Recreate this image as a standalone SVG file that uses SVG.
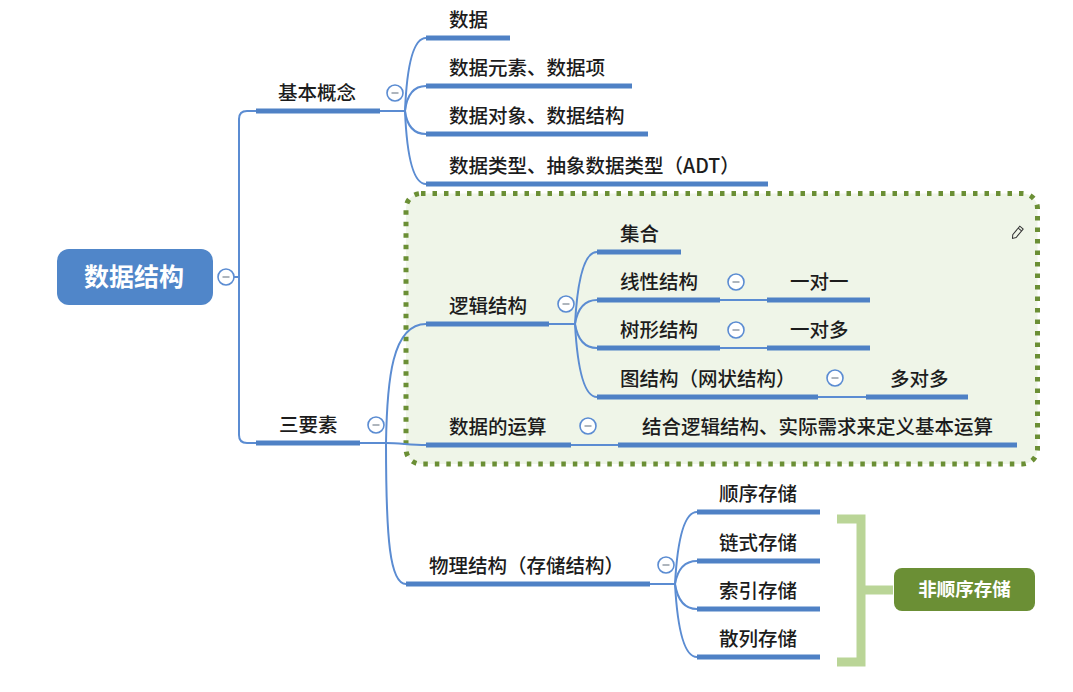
<svg xmlns="http://www.w3.org/2000/svg" width="1073" height="692" viewBox="0 0 1073 692">
<style>
text{font-family:"Noto Sans CJK SC","Noto Sans",sans-serif;}
.t{font-size:19.5px;fill:#1c1c1c;font-weight:500;}
.ul{stroke:#4f81c5;stroke-width:5;fill:none;}
.cn{stroke:#5b8cd2;stroke-width:2;fill:none;}
</style>
<defs>
<g id="minus"><circle cx="0" cy="0" r="8" fill="#ffffff" stroke="#5b8cd2" stroke-width="1.6"/><line x1="-3.5" y1="0" x2="3.5" y2="0" stroke="#9aa3ad" stroke-width="1.6"/></g>
</defs>
<rect width="1073" height="692" fill="#ffffff"/>

<!-- boundary box -->
<g id="boundary">
<rect x="406" y="193.5" width="631.5" height="270.5" rx="15" fill="#eff5e8" stroke="#6b8f35" stroke-width="5" stroke-dasharray="4.5 7"/>
<g transform="translate(1017,233) rotate(-50)" fill="none" stroke="#333" stroke-width="1">
<path d="M-7,0 L-4,-2.2 L7,-2.2 L7,2.2 L-4,2.2 Z"/>
<line x1="4.5" y1="-2.2" x2="4.5" y2="2.2"/>
</g>
</g>

<!-- connectors -->
<g id="connectors">
<path class="cn" d="M233,277 H239"/>
<path class="cn" d="M256,111 H247 Q239,111 239,119 V435 Q239,443 247,443 H256"/>
<path class="cn" d="M380,111 H405"/>
<path class="cn" d="M405,111 Q408,38 426,38"/>
<path class="cn" d="M405,111 Q408,86 426,86"/>
<path class="cn" d="M405,111 Q408,134 426,134"/>
<path class="cn" d="M405,111 Q408,184 426,184"/>
<path class="cn" d="M360,443 H386"/>
<path class="cn" d="M386,443 C387,380 392,324 426,324"/>
<path class="cn" d="M386,443 C400,443 410,445 426,445"/>
<path class="cn" d="M386,443 C386,540 390,584 406,584"/>
<path class="cn" d="M549,324 H575"/>
<path class="cn" d="M575,324 Q579,252 597,252"/>
<path class="cn" d="M575,324 Q579,300 597,300"/>
<path class="cn" d="M575,324 Q579,348 597,348"/>
<path class="cn" d="M575,324 Q579,397 597,397"/>
<path class="cn" d="M720,300 H767"/>
<path class="cn" d="M720,348 H767"/>
<path class="cn" d="M818,397 H866"/>
<path class="cn" d="M571,445 H618"/>
<path class="cn" d="M650,584 H675"/>
<path class="cn" d="M675,584 Q679,512 697,512"/>
<path class="cn" d="M675,584 Q679,561 697,561"/>
<path class="cn" d="M675,584 Q679,609 697,609"/>
<path class="cn" d="M675,584 Q679,657 697,657"/>
<!-- bracket -->
<path d="M837,519 H861 V662 H837 M861,590 H893" fill="none" stroke="#bad597" stroke-width="9"/>
</g>

<!-- root -->
<g id="root">
<rect x="57" y="249" width="156" height="56" rx="12" fill="#5086c9"/>
<text x="134" y="286" text-anchor="middle" font-size="25" font-weight="bold" fill="#ffffff">数据结构</text>
<use href="#minus" x="226" y="277"/>
</g>

<g id="n-jbgn">
<text class="t" x="278" y="100">基本概念</text>
<line class="ul" x1="256" y1="111" x2="380" y2="111"/>
<use href="#minus" x="395" y="93"/>
</g>
<g id="n-sj"><text class="t" x="449" y="27">数据</text><line class="ul" x1="426" y1="38" x2="510" y2="38"/></g>
<g id="n-sjys"><text class="t" x="449" y="75">数据元素、数据项</text><line class="ul" x1="426" y1="86" x2="632" y2="86"/></g>
<g id="n-sjdx"><text class="t" x="449" y="123">数据对象、数据结构</text><line class="ul" x1="426" y1="134" x2="648" y2="134"/></g>
<g id="n-sjlx"><text class="t" x="449" y="173">数据类型、抽象数据类型（ADT）</text><line class="ul" x1="426" y1="184" x2="768" y2="184"/></g>

<g id="n-syx">
<text class="t" x="279" y="432">三要素</text>
<line class="ul" x1="256" y1="443" x2="360" y2="443"/>
<use href="#minus" x="376" y="425"/>
</g>

<g id="n-ljjg">
<text class="t" x="449" y="313">逻辑结构</text>
<line class="ul" x1="426" y1="324" x2="549" y2="324"/>
<use href="#minus" x="566" y="304"/>
</g>
<g id="n-jh"><text class="t" x="620" y="241">集合</text><line class="ul" x1="597" y1="252" x2="681" y2="252"/></g>
<g id="n-xx">
<text class="t" x="620" y="289">线性结构</text><line class="ul" x1="597" y1="300" x2="720" y2="300"/>
<use href="#minus" x="736" y="282"/>
</g>
<g id="n-ydy"><text class="t" x="790" y="289">一对一</text><line class="ul" x1="767" y1="300" x2="870" y2="300"/></g>
<g id="n-sx">
<text class="t" x="620" y="337">树形结构</text><line class="ul" x1="597" y1="348" x2="720" y2="348"/>
<use href="#minus" x="736" y="330"/>
</g>
<g id="n-ydd"><text class="t" x="790" y="337">一对多</text><line class="ul" x1="767" y1="348" x2="870" y2="348"/></g>
<g id="n-t">
<text class="t" x="620" y="386">图结构（网状结构）</text><line class="ul" x1="597" y1="397" x2="818" y2="397"/>
<use href="#minus" x="835" y="378"/>
</g>
<g id="n-ddd"><text class="t" x="890" y="386">多对多</text><line class="ul" x1="866" y1="397" x2="968" y2="397"/></g>

<g id="n-ys">
<text class="t" x="449" y="434">数据的运算</text><line class="ul" x1="426" y1="445" x2="571" y2="445"/>
<use href="#minus" x="588" y="426"/>
</g>
<g id="n-jhlj"><text class="t" x="642" y="434">结合逻辑结构、实际需求来定义基本运算</text><line class="ul" x1="618" y1="445" x2="1017" y2="445"/></g>

<g id="n-wljg">
<text class="t" x="429" y="573">物理结构（存储结构）</text><line class="ul" x1="406" y1="584" x2="650" y2="584"/>
<use href="#minus" x="666" y="565"/>
</g>
<g id="n-sxcc"><text class="t" x="719" y="501">顺序存储</text><line class="ul" x1="697" y1="512" x2="820" y2="512"/></g>
<g id="n-lscc"><text class="t" x="719" y="550">链式存储</text><line class="ul" x1="697" y1="561" x2="820" y2="561"/></g>
<g id="n-sycc"><text class="t" x="719" y="598">索引存储</text><line class="ul" x1="697" y1="609" x2="820" y2="609"/></g>
<g id="n-slcc"><text class="t" x="719" y="646">散列存储</text><line class="ul" x1="697" y1="657" x2="820" y2="657"/></g>

<g id="n-fsx">
<rect x="894" y="568" width="141" height="43" rx="8" fill="#6b8f35"/>
<text x="964.5" y="596" text-anchor="middle" font-size="18.5" font-weight="bold" fill="#ffffff">非顺序存储</text>
</g>
</svg>
